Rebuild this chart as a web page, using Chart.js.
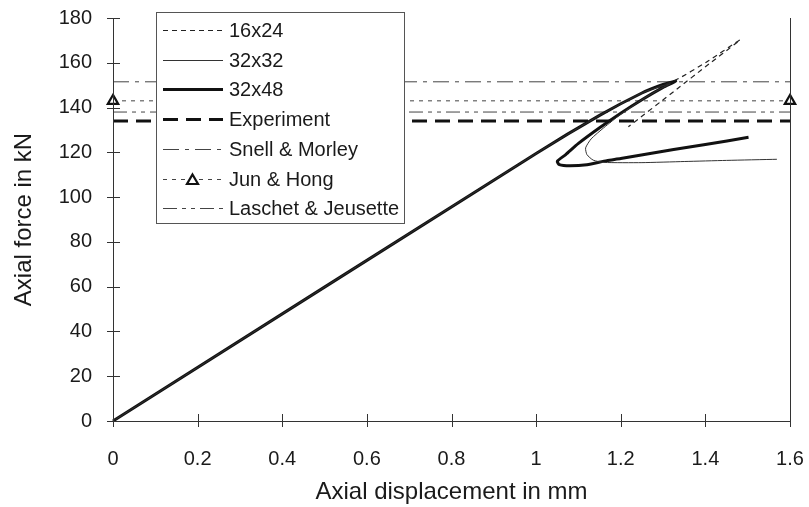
<!DOCTYPE html>
<html>
<head>
<meta charset="utf-8">
<script src="https://cdn.jsdelivr.net/npm/chart.js@4.4.1/dist/chart.umd.min.js"></script>
<style>
  html, body { margin: 0; padding: 0; background: #fff; }
  #wrap { width: 809px; height: 507px; }
</style>
</head>
<body>
<div id="wrap"><canvas id="fig"></canvas></div>
<script>
// tick labels
var xTickLabels = ['0', '0.2', '0.4', '0.6', '0.8', '1', '1.2', '1.4', '1.6'];
var yTickLabels = ['0', '20', '40', '60', '80', '100', '120', '140', '160', '180'];

// 16x24 mesh (load path goes on past the peak, then back)
var disp16x24  = [0, 1.0, 1.15, 1.25, 1.33, 1.404, 1.482, 1.40, 1.333, 1.218];
var force16x24 = [0, 119.5, 136.5, 146.5, 152.3, 160.5, 170.2, 158.2, 148.3, 131.4];

// 32x32 mesh
var disp32x32  = [0, 1.0, 1.15, 1.25, 1.30, 1.317, 1.29, 1.25, 1.20, 1.16, 1.13, 1.117, 1.12, 1.135, 1.16, 1.25, 1.35, 1.45, 1.569];
var force32x32 = [0, 119.5, 136.5, 146.5, 149.8, 150.6, 148, 143.5, 137, 131, 126, 122, 119, 116.5, 115.5, 115.4, 115.9, 116.4, 116.9];

// 32x48 mesh
var disp32x48  = [0, 1.0, 1.15, 1.25, 1.30, 1.33, 1.30, 1.25, 1.20, 1.15, 1.10, 1.07, 1.05, 1.055, 1.08, 1.12, 1.167, 1.20, 1.325, 1.40, 1.502];
var force32x48 = [0, 119.5, 136.5, 146.5, 150.3, 151.8, 149.0, 143.5, 137.5, 131, 124, 119, 116, 114.5, 114.0, 114.5, 116.3, 117.2, 121.3, 123.5, 126.7];

// reference values (horizontal lines)
var lineEnds = [0, 1.6];
var experiment = 134;
var snellMorley = 151.5;
var junHong = 143;
var laschetJeusette = 138;

function pts(xs, ys) {
    var out = [];
    for (var i in xs) {
        out.push({x: xs[i], y: ys[i]});
    }
    return out;
}
function flat(v) {
    return pts(lineEnds, [v, v]);
}

var FONT = "'Liberation Sans', Arial, sans-serif";
var INK = '#1a1a1a';

var datasets = [
    {label: '16x24', data: pts(disp16x24, force16x24), borderColor: '#222', borderWidth: 1.2, borderDash: [5, 4]},
    {label: '32x32', data: pts(disp32x32, force32x32), borderColor: '#333', borderWidth: 1},
    {label: '32x48', data: pts(disp32x48, force32x48), borderColor: '#111', borderWidth: 3},
    {label: 'Experiment', data: flat(experiment), borderColor: '#111', borderWidth: 3, borderDash: [15, 8]},
    {label: 'Snell & Morley', data: flat(snellMorley), borderColor: '#444', borderWidth: 1, borderDash: [16, 6, 4, 6]},
    {label: 'Jun & Hong', data: flat(junHong), borderColor: '#444', borderWidth: 1, borderDash: [4, 5],
        pointStyle: 'triangle', pointRadius: 6, pointBorderWidth: 2.2, pointBorderColor: '#111', pointBackgroundColor: '#fff'},
    {label: 'Laschet & Jeusette', data: flat(laschetJeusette), borderColor: '#444', borderWidth: 1, borderDash: [14, 5, 4, 5, 4, 5]}
];
datasets.forEach(function(d) {
    d.showLine = true;
    d.fill = false;
    d.tension = 0.2;
    d.clip = false;
    if (d.pointRadius === undefined) d.pointRadius = 0;
    d.pointHoverRadius = 0;
});
datasets[3].tension = 0; datasets[4].tension = 0; datasets[5].tension = 0; datasets[6].tension = 0;

// axis frame, crossing tick marks and right-hand line
var frame = {
    id: 'frame',
    afterDraw: function(chart) {
        var ctx = chart.ctx, a = chart.chartArea;
        var xs = chart.scales.x, ys = chart.scales.y;
        ctx.save();
        ctx.strokeStyle = '#333';
        ctx.lineWidth = 1;
        ctx.beginPath();
        ctx.moveTo(a.left + 0.5, a.top); ctx.lineTo(a.left + 0.5, a.bottom + 0.5);
        ctx.lineTo(a.right + 0.5, a.bottom + 0.5);
        ctx.moveTo(a.right + 0.5, a.top); ctx.lineTo(a.right + 0.5, a.bottom);
        xs.ticks.forEach(function(t) {
            var px = Math.round(xs.getPixelForValue(t.value)) + 0.5;
            ctx.moveTo(px, a.bottom - 7); ctx.lineTo(px, a.bottom + 6);
        });
        ys.ticks.forEach(function(t) {
            var py = Math.round(ys.getPixelForValue(t.value)) + 0.5;
            ctx.moveTo(a.left - 6, py); ctx.lineTo(a.left + 7, py);
        });
        ctx.stroke();
        ctx.restore();
    }
};

// legend box inside the plot, upper left
var boxLegend = {
    id: 'boxLegend',
    afterDatasetsDraw: function(chart) {
        var ctx = chart.ctx;
        var bx = 156, by = 12, bw = 248, bh = 211;
        ctx.save();
        ctx.fillStyle = '#fff';
        ctx.fillRect(bx, by, bw, bh);
        ctx.strokeStyle = '#555';
        ctx.lineWidth = 1;
        ctx.strokeRect(bx + 0.5, by + 0.5, bw, bh);
        ctx.font = '20px ' + FONT;
        ctx.textBaseline = 'middle';
        chart.data.datasets.forEach(function(d, i) {
            var ry = Math.round(30 + i * 29.7) + 0.5;
            ctx.strokeStyle = d.borderColor;
            ctx.lineWidth = d.borderWidth;
            ctx.setLineDash(d.borderDash || []);
            ctx.beginPath();
            ctx.moveTo(163, ry); ctx.lineTo(223, ry);
            ctx.stroke();
            ctx.setLineDash([]);
            if (d.pointStyle === 'triangle') {
                ctx.fillStyle = '#fff';
                ctx.fillRect(186, ry - 7, 13, 14);
                ctx.strokeStyle = '#111';
                ctx.lineWidth = 2.2;
                ctx.beginPath();
                ctx.moveTo(192.5, ry - 5); ctx.lineTo(198, ry + 4.5); ctx.lineTo(187, ry + 4.5); ctx.closePath();
                ctx.stroke();
            }
            ctx.fillStyle = INK;
            ctx.fillText(d.label, 229, ry + 1);
        });
        ctx.restore();
    }
};

var chart = new Chart(document.getElementById('fig'), {
    type: 'scatter',
    data: {datasets: datasets},
    plugins: [boxLegend, frame],
    options: {
        responsive: true,
        maintainAspectRatio: false,
        animation: false,
        events: [],
        layout: {padding: {top: 18, right: 19, bottom: 0, left: 0}},
        plugins: {
            legend: {display: false},
            tooltip: {enabled: false}
        },
        scales: {
            x: {
                type: 'linear',
                min: 0, max: 1.6,
                afterFit: function(s) {
                    s.height = 86;
                    s.paddingLeft = 0; s.paddingRight = 0;
                },
                grid: {display: false, drawTicks: false},
                border: {display: false},
                ticks: {
                    stepSize: 0.2,
                    padding: 26,
                    maxRotation: 0,
                    color: INK,
                    font: {family: FONT, size: 20},
                    callback: function(v, i) { return xTickLabels[i]; }
                },
                title: {display: true, text: 'Axial displacement in mm', color: INK,
                    font: {family: FONT, size: 24}, padding: {top: 0, bottom: 0}}
            },
            y: {
                min: 0, max: 180,
                afterFit: function(s) {
                    s.width = 113;
                    s.paddingTop = 0; s.paddingBottom = 0;
                },
                grid: {display: false, drawTicks: false},
                border: {display: false},
                ticks: {
                    stepSize: 20,
                    padding: 21,
                    color: INK,
                    font: {family: FONT, size: 20},
                    callback: function(v, i) { return yTickLabels[i]; }
                },
                title: {display: true, text: 'Axial force in kN', color: INK,
                    font: {family: FONT, size: 24}, padding: {top: 10, bottom: 0}}
            }
        }
    }
});
</script>
</body>
</html>
